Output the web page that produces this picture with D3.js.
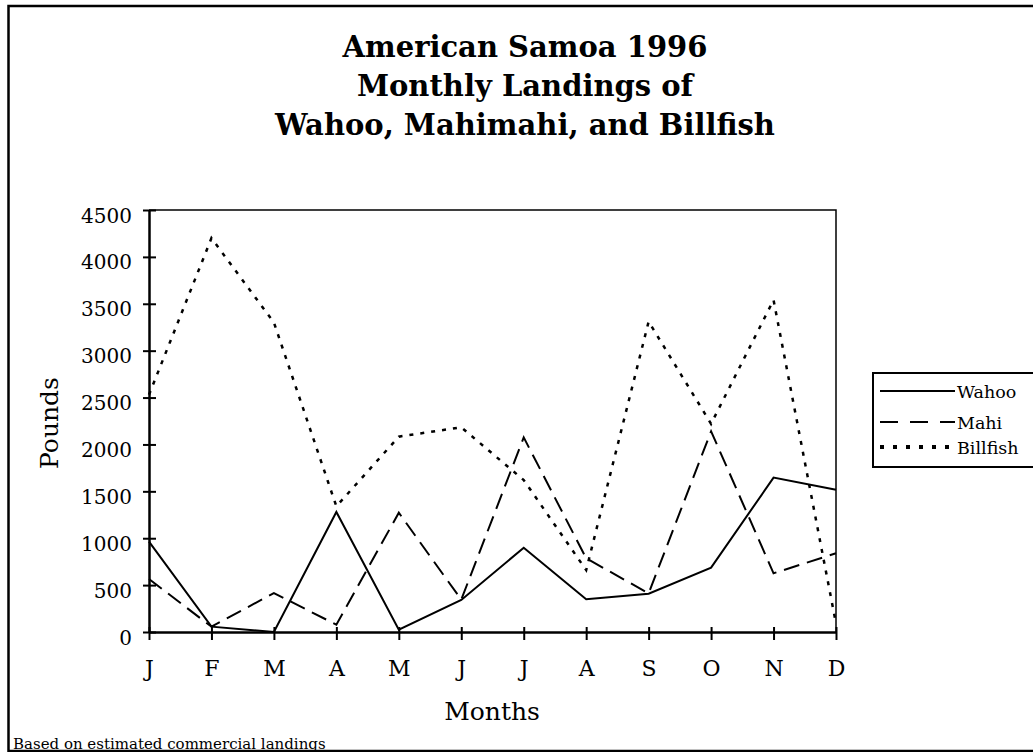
<!DOCTYPE html>
<html>
<head>
<meta charset="utf-8">
<script src="https://cdn.jsdelivr.net/npm/d3@7"></script>
<style>
  body { margin: 0; background: #fff; }
  svg { display: block; font-family: "DejaVu Serif", serif; }
</style>
</head>
<body>
<div id="chart"></div>
<script>
/* American Samoa 1996 monthly landings - line chart */

const months = ["J", "F", "M", "A", "M", "J", "J", "A", "S", "O", "N", "D"];
const wahoo = [963, 57, 0, 1280, 25, 341, 899, 349, 409, 686, 1646, 1518];
const mahi = [565, 57, 415, 78, 1272, 345, 2075, 786, 412, 2140, 626, 839];
const billfish = [2530, 4200, 3300, 1340, 2083, 2183, 1620, 660, 3310, 2220, 3540, 90];
const yTicks = [0, 500, 1000, 1500, 2000, 2500, 3000, 3500, 4000, 4500];
const seriesNames = ["Wahoo", "Mahi", "Billfish"];

const width = 1033,
    height = 752,
    margin = ({ top: 210, right: 197, bottom: 120, left: 149 });

let svg = d3.select("#chart")
    .append("svg")
    .attr("width", width)
    .attr("height", height);

/* outer frame (right edge runs off the page) */
svg.append("rect")
    .attr("x", 8.5)
    .attr("y", 6)
    .attr("width", 1040)
    .attr("height", 745)
    .attr("fill", "none")
    .attr("stroke", "#000")
    .attr("stroke-width", 2.5);

let x = d3.scalePoint()
    .domain(d3.range(months.length))
    .range([margin.left, width - margin.right]);

let y = d3.scaleLinear()
    .domain([0, 4500])
    .range([height - margin.bottom, margin.top]);

/* plot box top and right */
svg.append("path")
    .attr("d", `M${x(0)},${y(4500)}H${x(11)}V${y(0)}`)
    .attr("fill", "none")
    .attr("stroke", "#000")
    .attr("stroke-width", 1.5);

/* y axis */
svg.append("g")
    .attr("transform", `translate(${x(0)},0)`)
    .call(d3.axisLeft(y).tickValues(yTicks).tickFormat(d3.format("d"))
        .tickSize(6).tickSizeOuter(0).tickPadding(11))
    .call(g => g.select(".domain").attr("stroke-width", 2.5))
    .call(g => g.selectAll(".tick line").attr("x1", 7).attr("stroke-width", 2))
    .call(g => g.selectAll(".tick text")
        .attr("dy", "0.6em")
        .style("font-size", "20px")
        .style("font-family", "DejaVu Serif")
        .attr("fill", "#000"));

/* x axis */
svg.append("g")
    .attr("transform", `translate(0,${y(0)})`)
    .call(d3.axisBottom(x).tickFormat(i => months[i]).tickSize(8).tickSizeOuter(0).tickPadding(20))
    .call(g => g.select(".domain").attr("stroke-width", 2.5))
    .call(g => g.selectAll(".tick line").attr("y1", -5).attr("stroke-width", 2))
    .call(g => g.selectAll(".tick text")
        .style("font-size", "22px")
        .style("font-family", "DejaVu Serif")
        .attr("fill", "#000"));

/* lines */
const styles = [
    { data: wahoo, dash: null, w: 2 },
    { data: mahi, dash: "16 8", w: 2 },
    { data: billfish, dash: "4 7", w: 2.5 }
];

let line = d3.line()
    .x((d, i) => x(i))
    .y(d => y(d));

svg.selectAll(".series")
    .data(styles)
    .join("path")
    .attr("class", "series")
    .attr("d", s => line(s.data))
    .attr("fill", "none")
    .attr("stroke", "#000")
    .attr("stroke-width", s => s.w)
    .attr("stroke-dasharray", s => s.dash);

/* titles */
const titleLines = ["American Samoa 1996", "Monthly Landings of", "Wahoo, Mahimahi, and Billfish"];
svg.append("g")
    .selectAll("text")
    .data(titleLines)
    .join("text")
    .attr("x", 525)
    .attr("y", (d, i) => 57 + i * 39)
    .attr("text-anchor", "middle")
    .style("font-size", "29px")
    .style("font-weight", "bold")
    .text(d => d);

svg.append("text")
    .attr("transform", "translate(58,423) rotate(-90)")
    .attr("text-anchor", "middle")
    .style("font-size", "25px")
    .text("Pounds");

svg.append("text")
    .attr("x", 492)
    .attr("y", 720)
    .attr("text-anchor", "middle")
    .style("font-size", "25px")
    .text("Months");

svg.append("text")
    .attr("x", 13)
    .attr("y", 749)
    .style("font-size", "15px")
    .text("Based on estimated commercial landings");

/* legend */
let legend = svg.append("g");
legend.append("rect")
    .attr("x", 873)
    .attr("y", 373)
    .attr("width", 170)
    .attr("height", 94)
    .attr("fill", "#fff")
    .attr("stroke", "#000")
    .attr("stroke-width", 2);

const legendY = [391, 422, 447];
const legendDash = [null, "18 12", "4 9"];
const legendW = [2, 2, 4];

seriesNames.forEach((name, i) => {
    legend.append("line")
        .attr("x1", 880)
        .attr("x2", 955)
        .attr("y1", legendY[i])
        .attr("y2", legendY[i])
        .attr("stroke", "#000")
        .attr("stroke-width", legendW[i])
        .attr("stroke-dasharray", legendDash[i]);
    legend.append("text")
        .attr("x", 957)
        .attr("y", legendY[i] + 7)
        .style("font-size", "17.5px")
        .text(name);
});
</script>
</body>
</html>
